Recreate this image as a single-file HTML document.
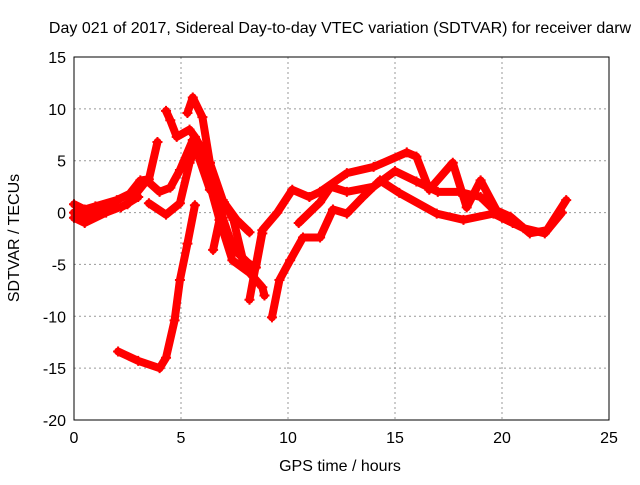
<!DOCTYPE html>
<html><head><meta charset="utf-8"><style>
body{margin:0;background:#fff}
svg{font-family:"Liberation Sans",sans-serif;font-size:16px}
</style></head><body>
<svg width="640" height="480">
<g id="grid"></g>
<g id="axes"></g>
<g id="series"></g>
<rect x="74" y="57" width="535" height="363" fill="none" stroke="#000" stroke-width="1"/>
<text x="340" y="33" text-anchor="middle">Day 021 of 2017, Sidereal Day-to-day VTEC variation (SDTVAR) for receiver darw</text>
<text x="340" y="471" text-anchor="middle">GPS time / hours</text>
<text transform="translate(19,238) rotate(-90)" text-anchor="middle">SDTVAR / TECUs</text>
</svg>
<script>
const xTicks=[0,5,10,15,20,25];
const yTicks=[-20,-15,-10,-5,0,5,10,15];
const trackA_x=[2.06,3.0,4.0,4.3,4.7,4.95,5.3,5.65];
const trackA_y=[-13.4,-14.3,-15,-14,-10.4,-6.5,-3,0.7];
const trackB_x=[0,0.5,1.0,2.0,2.6,3.1,3.5,3.9];
const trackB_y=[0.8,0.3,0.6,1.2,1.8,3.1,3.2,6.8];
const trackC_x=[0,0.5,1.5,2.5,3.4,4.0,4.5,4.95,5.55,6.35,7.0,7.6,8.2];
const trackC_y=[-0.5,-1,0,0.8,3.1,2,2.4,4.1,7,2.2,1,-0.7,-1.9];
const trackD_x=[3.5,4.3,4.95,5.4,5.75,6.2,6.8,7.4,8.2,8.8,8.9];
const trackD_y=[0.9,-0.2,0.9,4.8,6.7,3.8,-0.7,-4.6,-5.8,-7.2,-8];
const trackE_x=[4.3,4.5,4.8,5.4,5.65,6.35,6.95,7.45,7.9,8.5,8.8];
const trackE_y=[9.8,8.9,7.3,8,7.3,4.8,1.2,-0.7,-4.6,-5.3,-2];
const trackP_x=[5.3,5.55,6.0,6.35,6.95,7.45,8.2];
const trackP_y=[9.6,11.1,9.2,4.8,-0.5,-3.5,-5];
const trackV_x=[6.5,6.8,7.0];
const trackV_y=[-3.6,-0.7,1];
const trackF_x=[9.25,9.6,10.1,10.7,11.5,12.1,12.75,13.5,14.3,15.2,16.95,18.2,19.6,20.5];
const trackF_y=[-10.1,-6.5,-4.6,-2.4,-2.4,0.3,-0.1,1.5,3.1,1.9,-0.1,-0.7,-0.1,-1];
const trackG_x=[8.2,8.8,9.5,10.2,11.0,11.5,12.75,14,15.55,16,16.6,17.7,18.35,19,19.75,20.4,21.3,22.1,23];
const trackG_y=[-8.4,-1.7,0,2.2,1.5,2.0,3.8,4.4,5.8,5.4,2.2,4.8,0.5,3.1,0.2,-0.4,-2,-1.7,1.2];
const trackH_x=[10.5,11.5,12.0,12.75,14,15,16,17,18,19,20,21,22,22.8];
const trackH_y=[-1,1,2.5,2,2.5,4,3,2,2,1.5,-0.5,-1.5,-2,0];
const trackI_x=[0,0.8,1.5,2.2,3.0];
const trackI_y=[0,-0.3,0.4,0.5,1.5];
const tracks=[[trackA_x,trackA_y],[trackB_x,trackB_y],[trackC_x,trackC_y],[trackD_x,trackD_y],[trackE_x,trackE_y],[trackP_x,trackP_y],[trackV_x,trackV_y],[trackF_x,trackF_y],[trackG_x,trackG_y],[trackH_x,trackH_y],[trackI_x,trackI_y]];
const NS='http://www.w3.org/2000/svg';
const X=h=>74+h*535/25, Y=v=>57+(15-v)*363/35;
const grid=document.getElementById('grid'),axes=document.getElementById('axes'),ser=document.getElementById('series');
function mk(t,a,p){const e=document.createElementNS(NS,t);for(const k in a)e.setAttribute(k,a[k]);p.appendChild(e);return e;}
xTicks.forEach(t=>{
 if(t>0&&t<25){const g=mk('line',{x1:X(t),x2:X(t),y1:57,y2:420,stroke:'#999','stroke-dasharray':'2,3'},grid);
 
 }
 const l=mk('text',{x:X(t),y:443,'text-anchor':'middle'},axes);l.textContent=t;
 
 
});
yTicks.forEach(t=>{
 if(t>-20&&t<15){const g=mk('line',{x1:74,x2:609,y1:Y(t),y2:Y(t),stroke:'#999','stroke-dasharray':'2,3'},grid);
 
 }
 const l=mk('text',{x:66,y:Y(t)+6,'text-anchor':'end'},axes);l.textContent=t;
 
 
});
tracks.forEach(([xs,ys])=>{
 const pts=xs.map((x,i)=>X(x)+','+Y(ys[i])).join(' ');
 const p=mk('polyline',{points:pts,fill:'none',stroke:'#f00','stroke-width':8,'stroke-linejoin':'round','stroke-linecap':'round'},ser);
 
 
 xs.forEach((x,i)=>{
  const px=X(x),py=Y(ys[i]);
  const m=mk('path',{d:`M${px-5},${py}H${px+5}M${px},${py-5}V${py+5}`,stroke:'#f00','stroke-width':2},ser);
  
  
 });
});
</script>
</body></html>
